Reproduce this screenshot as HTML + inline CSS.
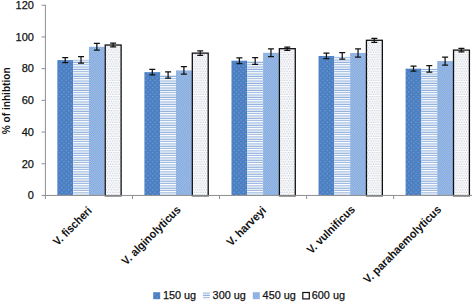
<!DOCTYPE html>
<html><head><meta charset="utf-8"><style>
html,body{margin:0;padding:0;background:#fff;}
body{width:472px;height:302px;overflow:hidden;}
svg{display:block;font-family:"Liberation Sans",sans-serif;}
</style></head><body>
<svg width="472" height="302" viewBox="0 0 472 302">
<defs>
<pattern id="p1" width="4.66" height="4.66" patternUnits="userSpaceOnUse">
<rect width="4.66" height="4.66" fill="#4c7fc0"/>
<circle cx="1.16" cy="1.16" r="0.62" fill="#7aa6e8"/>
<circle cx="3.49" cy="3.49" r="0.62" fill="#7aa6e8"/>
</pattern>
<pattern id="p2" width="4" height="2.33" patternUnits="userSpaceOnUse">
<rect width="4" height="2.33" fill="#ffffff"/>
<rect y="1.25" width="4" height="1.05" fill="#8aacdb"/>
</pattern>
<pattern id="p3" width="2.33" height="2.33" patternUnits="userSpaceOnUse">
<rect width="2.33" height="2.33" fill="#a3c1ea"/>
<rect width="1.165" height="1.165" fill="#7ea5da"/>
<rect x="1.165" y="1.165" width="1.165" height="1.165" fill="#7ea5da"/>
</pattern>
<pattern id="p4" width="4.66" height="4.66" patternUnits="userSpaceOnUse">
<rect width="4.66" height="4.66" fill="#fdfdfe"/>
<circle cx="0.6" cy="1.16" r="0.6" fill="#b9c1d0"/>
<circle cx="2.93" cy="1.16" r="0.6" fill="#b9c1d0"/>
<circle cx="1.76" cy="3.49" r="0.6" fill="#b9c1d0"/>
<circle cx="4.09" cy="3.49" r="0.6" fill="#b9c1d0"/>
</pattern>
</defs>
<rect width="472" height="302" fill="#fff"/>

<rect x="57.33" y="60.09" width="15.80" height="135.36" fill="url(#p1)"/>
<rect x="73.13" y="59.77" width="15.80" height="135.68" fill="url(#p2)"/>
<rect x="88.94" y="46.78" width="15.80" height="148.67" fill="url(#p3)"/>
<rect x="105.23" y="45.03" width="15.90" height="150.72" fill="url(#p4)" stroke="#111" stroke-width="1.3"/>
<rect x="144.41" y="72.14" width="15.80" height="123.31" fill="url(#p1)"/>
<rect x="160.21" y="74.99" width="15.80" height="120.46" fill="url(#p2)"/>
<rect x="176.00" y="70.39" width="15.80" height="125.06" fill="url(#p3)"/>
<rect x="192.31" y="53.12" width="15.90" height="142.63" fill="url(#p4)" stroke="#111" stroke-width="1.3"/>
<rect x="231.47" y="60.72" width="15.80" height="134.72" fill="url(#p1)"/>
<rect x="247.28" y="61.04" width="15.80" height="134.41" fill="url(#p2)"/>
<rect x="263.07" y="52.80" width="15.80" height="142.65" fill="url(#p3)"/>
<rect x="279.38" y="48.68" width="15.90" height="147.07" fill="url(#p4)" stroke="#111" stroke-width="1.3"/>
<rect x="318.54" y="55.97" width="15.80" height="139.48" fill="url(#p1)"/>
<rect x="334.34" y="55.97" width="15.80" height="139.48" fill="url(#p2)"/>
<rect x="350.14" y="52.96" width="15.80" height="142.49" fill="url(#p3)"/>
<rect x="366.44" y="40.28" width="15.90" height="155.47" fill="url(#p4)" stroke="#111" stroke-width="1.3"/>
<rect x="405.61" y="68.65" width="15.80" height="126.80" fill="url(#p1)"/>
<rect x="421.41" y="68.81" width="15.80" height="126.64" fill="url(#p2)"/>
<rect x="437.21" y="61.04" width="15.80" height="134.41" fill="url(#p3)"/>
<rect x="453.51" y="50.11" width="15.90" height="145.64" fill="url(#p4)" stroke="#111" stroke-width="1.3"/>
<g stroke="#8e8e8e" stroke-width="1" fill="none">
<line x1="45.4" y1="4.75" x2="45.4" y2="195.95"/>
<line x1="44.9" y1="195.45" x2="472" y2="195.45"/>
<line x1="41.6" y1="195.45" x2="45.4" y2="195.45"/>
<line x1="41.6" y1="163.75" x2="45.4" y2="163.75"/>
<line x1="41.6" y1="132.05" x2="45.4" y2="132.05"/>
<line x1="41.6" y1="100.35" x2="45.4" y2="100.35"/>
<line x1="41.6" y1="68.65" x2="45.4" y2="68.65"/>
<line x1="41.6" y1="36.95" x2="45.4" y2="36.95"/>
<line x1="41.6" y1="5.25" x2="45.4" y2="5.25"/>
<line x1="45.40" y1="195.45" x2="45.40" y2="199.04999999999998"/>
<line x1="132.47" y1="195.45" x2="132.47" y2="199.04999999999998"/>
<line x1="219.54" y1="195.45" x2="219.54" y2="199.04999999999998"/>
<line x1="306.61" y1="195.45" x2="306.61" y2="199.04999999999998"/>
<line x1="393.68" y1="195.45" x2="393.68" y2="199.04999999999998"/>
<line x1="480.75" y1="195.45" x2="480.75" y2="199.04999999999998"/>
</g>
<g stroke="#111" stroke-width="1.25" fill="none">
<path d="M62.23 57.63H68.23M62.23 62.55H68.23M65.23 57.63V62.55"/>
<path d="M78.03 56.52H84.03M78.03 63.02H84.03M81.03 56.52V63.02"/>
<path d="M93.84 43.37H99.84M93.84 50.18H99.84M96.84 43.37V50.18"/>
<path d="M110.14 43.21H116.14M110.14 46.86H116.14M113.14 43.21V46.86"/>
<path d="M149.31 69.36H155.31M149.31 74.91H155.31M152.31 69.36V74.91"/>
<path d="M165.11 71.90H171.11M165.11 78.08H171.11M168.11 71.90V78.08"/>
<path d="M180.91 66.67H186.91M180.91 74.12H186.91M183.91 66.67V74.12"/>
<path d="M197.21 50.98H203.21M197.21 55.26H203.21M200.21 50.98V55.26"/>
<path d="M236.38 57.79H242.38M236.38 63.66H242.38M239.38 57.79V63.66"/>
<path d="M252.18 57.63H258.18M252.18 64.45H258.18M255.18 57.63V64.45"/>
<path d="M267.97 48.92H273.97M267.97 56.68H273.97M270.97 48.92V56.68"/>
<path d="M284.27 47.01H290.27M284.27 50.34H290.27M287.27 47.01V50.34"/>
<path d="M323.44 53.20H329.44M323.44 58.74H329.44M326.44 53.20V58.74"/>
<path d="M339.24 52.72H345.24M339.24 59.22H345.24M342.24 52.72V59.22"/>
<path d="M355.04 48.92H361.04M355.04 57.00H361.04M358.04 48.92V57.00"/>
<path d="M371.34 38.30H377.34M371.34 42.26H377.34M374.34 38.30V42.26"/>
<path d="M410.51 66.19H416.51M410.51 71.11H416.51M413.51 66.19V71.11"/>
<path d="M426.31 65.56H432.31M426.31 72.06H432.31M429.31 65.56V72.06"/>
<path d="M442.11 57.00H448.11M442.11 65.08H448.11M445.11 57.00V65.08"/>
<path d="M458.41 48.28H464.41M458.41 51.93H464.41M461.41 48.28V51.93"/>
</g>
<g font-size="11px" fill="#111" text-anchor="end" stroke="#111" stroke-width="0.25">
<text x="33.9" y="199.25">0</text>
<text x="33.9" y="167.55">20</text>
<text x="33.9" y="135.85">40</text>
<text x="33.9" y="104.15">60</text>
<text x="33.9" y="72.45">80</text>
<text x="33.9" y="40.75">100</text>
<text x="33.9" y="9.05">120</text>
</g>
<text transform="translate(9.6,100.8) rotate(-90)" text-anchor="middle" font-size="11px" font-weight="bold" fill="#111" textLength="66.8" lengthAdjust="spacingAndGlyphs">% of inhibtion</text>
<text transform="translate(92.44,211.50) rotate(-45)" text-anchor="end" font-size="11.5px" font-weight="bold" fill="#111" textLength="49" lengthAdjust="spacingAndGlyphs">V. fischeri</text>
<text transform="translate(181.50,210.50) rotate(-45)" text-anchor="end" font-size="11.5px" font-weight="bold" fill="#111" textLength="78" lengthAdjust="spacingAndGlyphs">V. alginolyticus</text>
<text transform="translate(266.88,211.00) rotate(-45)" text-anchor="end" font-size="11.5px" font-weight="bold" fill="#111" textLength="50.5" lengthAdjust="spacingAndGlyphs">V. harveyi</text>
<text transform="translate(355.64,210.20) rotate(-45)" text-anchor="end" font-size="11.5px" font-weight="bold" fill="#111" textLength="62.5" lengthAdjust="spacingAndGlyphs">V. vulnificus</text>
<text transform="translate(441.91,210.20) rotate(-45)" text-anchor="end" font-size="11.5px" font-weight="bold" fill="#111" textLength="104.5" lengthAdjust="spacingAndGlyphs">V. parahaemolyticus</text>
<rect x="153.2" y="292.2" width="7" height="7" fill="url(#p1)"/>
<rect x="202.9" y="292.2" width="7" height="7" fill="url(#p2)"/>
<rect x="252.8" y="292.2" width="7" height="7" fill="url(#p3)"/>
<rect x="302.8" y="292.5" width="6.5" height="6.4" fill="#fff" stroke="#111" stroke-width="1.2"/>
<g font-size="11.5px" fill="#111" stroke="#111" stroke-width="0.25">
<text x="162.9" y="299.1" textLength="33.2" lengthAdjust="spacingAndGlyphs">150 ug</text>
<text x="212.6" y="299.1" textLength="33.2" lengthAdjust="spacingAndGlyphs">300 ug</text>
<text x="262.6" y="299.1" textLength="33.2" lengthAdjust="spacingAndGlyphs">450 ug</text>
<text x="311.8" y="299.1" textLength="33.2" lengthAdjust="spacingAndGlyphs">600 ug</text>
</g>
</svg></body></html>
